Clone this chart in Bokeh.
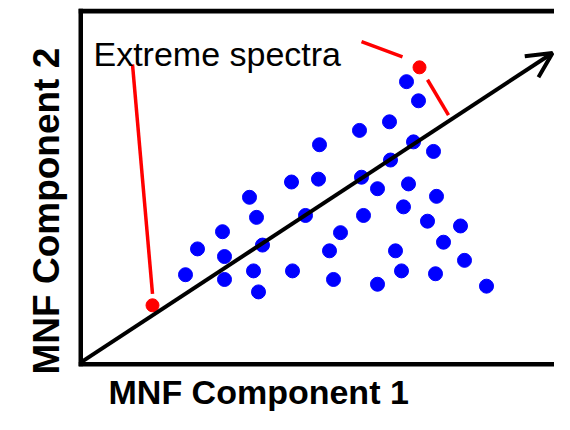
from bokeh.plotting import figure
from bokeh.models import Span, Arrow, OpenHead, Title, Range1d
from bokeh.core.properties import value
from bokeh.embed import file_html
from bokeh.resources import INLINE

# Blue spectra (MNF component 1, MNF component 2)
blue_x = [32.6, 33.8, 30.9, 27.9, 23.9, 33.3, 35.3, 31.0, 21.1, 23.8,
          28.1, 29.7, 32.8, 35.6, 16.9, 17.6, 22.5, 28.3, 32.3, 34.7,
          38.0, 14.2, 11.7, 18.2, 26.0, 24.9, 31.5, 36.3, 38.4, 14.4,
          10.5, 17.3, 21.2, 14.4, 17.8, 25.3, 29.7, 32.1, 35.5, 40.6]
blue_y = [29.6, 27.6, 25.4, 24.5, 23.0, 23.3, 22.3, 21.4, 19.1, 19.4,
          19.6, 18.4, 18.9, 17.6, 17.5, 15.4, 15.6, 15.6, 16.5, 15.0,
          14.5, 13.9, 12.1, 12.5, 13.8, 11.9, 11.9, 12.8, 10.9, 11.3,
          9.4, 9.8, 9.8, 8.9, 7.6, 8.9, 8.4, 9.8, 9.5, 8.2]

# Extreme spectra
red_x = [33.9, 7.2]
red_y = [31.1, 6.2]

# Leader lines from the label to the extreme spectra
lead_x0 = [28.1, 34.7, 5.2]
lead_y0 = [33.8, 29.8, 31.4]
lead_x1 = [32.2, 36.8, 7.2]
lead_y1 = [32.2, 26.1, 7.4]

# Main direction arrow
arrow_start = (0.0, 0.2)
arrow_end = (47.2, 32.6)

label_text = ["Extreme spectra"]
label_x = [1.3]
label_y = [32.5]

x_title = "MNF Component 1"
y_title = "MNF Component 2"

p = figure(width=554, height=414, output_backend="svg", toolbar_location=None,
           x_range=Range1d(-0.2, 47.4), y_range=Range1d(-0.206, 37.257),
           x_axis_location=None, y_axis_location=None,
           min_border_left=78, min_border_right=0, min_border_top=8,
           min_border_bottom=42)
p.grid.visible = False
p.outline_line_color = None
p.background_fill_color = "white"
p.border_fill_color = "white"

# Frame borders (left, bottom, top)
for loc, dim in [(0, "height"), (0, "width"), (37, "width")]:
    p.add_layout(Span(location=loc, dimension=dim, line_color="black", line_width=5))

p.add_layout(Arrow(end=OpenHead(size=25, line_width=4, line_color="black"),
                   x_start=arrow_start[0], y_start=arrow_start[1],
                   x_end=arrow_end[0], y_end=arrow_end[1],
                   line_width=4, line_color="black"))

p.segment(lead_x0, lead_y0, lead_x1, lead_y1, line_color="#FF0000", line_width=3.5)

p.scatter(blue_x, blue_y, size=14, color="#0000FF")
p.scatter(red_x, red_y, size=13, color="#FF0000")

p.text(label_x, label_y, text=label_text, text_font=value("Liberation Sans"),
       text_font_size="34px", text_color="black", text_baseline="alphabetic")

p.add_layout(Title(text=x_title, align="left", offset=30, standoff=8,
                   text_font="Liberation Sans", text_font_size="34px",
                   text_font_style="bold", text_color="black"), "below")
p.add_layout(Title(text=y_title, align="left", offset=-8, standoff=24,
                   text_font="Liberation Sans", text_font_size="37px",
                   text_font_style="bold", text_color="black"), "left")

open("out.html", "w").write(file_html(p, INLINE))
